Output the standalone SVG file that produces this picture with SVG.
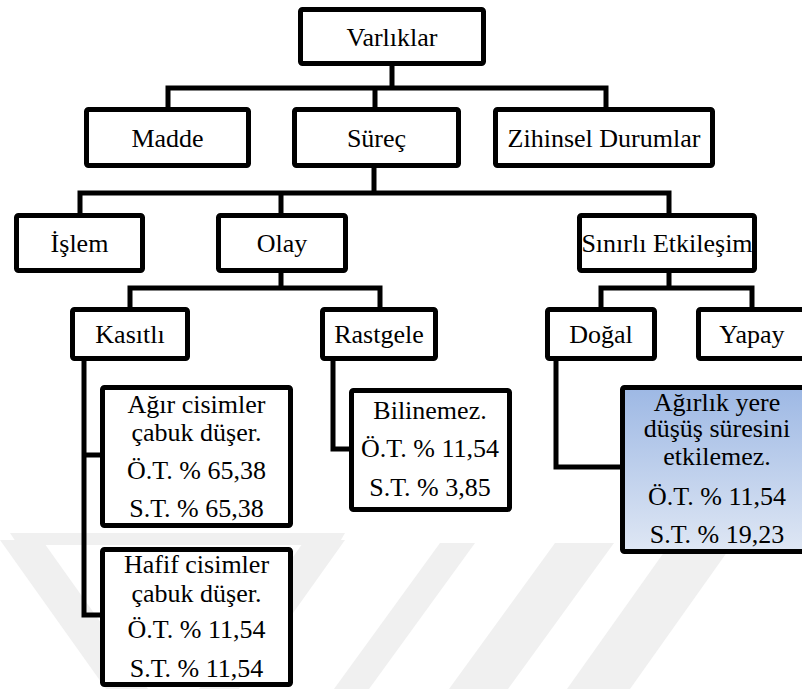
<svg xmlns="http://www.w3.org/2000/svg" width="802" height="689" viewBox="0 0 802 689">
  <defs>
    <linearGradient id="blueFill" x1="0" y1="0" x2="0" y2="1">
      <stop offset="0" stop-color="#9db8e4"/>
      <stop offset="1" stop-color="#dfe7f4"/>
    </linearGradient>
    <style>
      .box { fill: #ffffff; stroke: #000000; stroke-width: 5; }
      .blue { fill: url(#blueFill); }
      .wire { fill: none; stroke: #000000; stroke-width: 5; stroke-linejoin: miter; }
      .mark { fill: #f0f0f0; stroke: none; }
      .lbl { font-family: 'Liberation Serif', 'DejaVu Serif', serif; font-size: 26px; fill: #000000; text-anchor: middle; }
    </style>
  </defs>
  <rect width="802" height="689" fill="#ffffff"/>

  <!-- faint background emblem -->
  <g id="emblem">
    <polygon class="mark" points="10,533 345,533 338,545 18,545"/>
    <polygon class="mark" points="0,540 42,540 148,689 106,689"/>
    <polygon class="mark" points="305,540 345,540 239,689 199,689"/>
    <polygon class="mark" points="440,543 475,543 369,689 334,689"/>
    <polygon class="mark" points="555,543 614,543 508,689 449,689"/>
    <polygon class="mark" points="667,548 730,548 630,689 567,689"/>
  </g>

  <!-- connectors -->
  <g id="connectors">
    <path class="wire" d="M392,66 V88 M168,107 V88 H606 V107 M375,88 V107"/>
    <path class="wire" d="M374,168 V193 M80,213 V193 H669 V213 M281,193 V213"/>
    <path class="wire" d="M281,273 V288 M130,307 V288 H380 V307"/>
    <path class="wire" d="M669,273 V288 M601,307 V288 H752 V307"/>
    <path class="wire" d="M84,361 V615 H102 M84,455 H102"/>
    <path class="wire" d="M333,361 V449 H351"/>
    <path class="wire" d="M556,359 V467 H622"/>
  </g>

  <g font-family="Liberation Serif, DejaVu Serif, serif" font-size="26" text-anchor="middle" fill="#000000">
  <g id="varliklar">
    <rect class="box" x="300.5" y="9.5" width="183" height="54" rx="2"/>
    <text class="lbl" x="392" y="46">Varlıklar</text>
  </g>
  <g id="madde">
    <rect class="box" x="86.5" y="109.5" width="162" height="56" rx="2"/>
    <text class="lbl" x="167.5" y="147">Madde</text>
  </g>
  <g id="surec">
    <rect class="box" x="294.5" y="109.5" width="164" height="56" rx="2"/>
    <text class="lbl" x="376.5" y="147">Süreç</text>
  </g>
  <g id="zihinsel-durumlar">
    <rect class="box" x="495.5" y="109.5" width="217" height="56" rx="2"/>
    <text class="lbl" x="604" y="147">Zihinsel Durumlar</text>
  </g>
  <g id="islem">
    <rect class="box" x="16.5" y="215.5" width="126" height="55" rx="2"/>
    <text class="lbl" x="79.5" y="252">İşlem</text>
  </g>
  <g id="olay">
    <rect class="box" x="218.5" y="215.5" width="127" height="55" rx="2"/>
    <text class="lbl" x="282" y="252">Olay</text>
  </g>
  <g id="sinirli-etkilesim">
    <rect class="box" x="579.5" y="215.5" width="175" height="55" rx="2"/>
    <text class="lbl" x="667" y="252">Sınırlı Etkileşim</text>
  </g>
  <g id="kasitli">
    <rect class="box" x="72.5" y="309.5" width="115" height="49" rx="2"/>
    <text class="lbl" x="130" y="343">Kasıtlı</text>
  </g>
  <g id="rastgele">
    <rect class="box" x="322.5" y="309.5" width="113" height="49" rx="2"/>
    <text class="lbl" x="379" y="343">Rastgele</text>
  </g>
  <g id="dogal">
    <rect class="box" x="547.5" y="309.5" width="107" height="49" rx="2"/>
    <text class="lbl" x="601" y="343">Doğal</text>
  </g>
  <g id="yapay">
    <rect class="box" x="698.5" y="309.5" width="112" height="49" rx="2"/>
    <text class="lbl" x="752" y="343">Yapay</text>
  </g>
  <g id="agir-cisimler">
    <rect class="box" x="102.5" y="387.5" width="188" height="138" rx="2"/>
    <text class="lbl" x="196.5" y="413">Ağır cisimler</text>
    <text class="lbl" x="196.5" y="441">çabuk düşer.</text>
    <text class="lbl" x="196.5" y="479">Ö.T. % 65,38</text>
    <text class="lbl" x="196.5" y="517">S.T. % 65,38</text>
  </g>
  <g id="hafif-cisimler">
    <rect class="box" x="102.5" y="549.5" width="188" height="135" rx="2"/>
    <text class="lbl" x="196.5" y="573">Hafif cisimler</text>
    <text class="lbl" x="196.5" y="602">çabuk düşer.</text>
    <text class="lbl" x="196.5" y="638">Ö.T. % 11,54</text>
    <text class="lbl" x="196.5" y="677">S.T. % 11,54</text>
  </g>
  <g id="bilinemez">
    <rect class="box" x="351.5" y="390.5" width="158" height="119" rx="2"/>
    <text class="lbl" x="430" y="419">Bilinemez.</text>
    <text class="lbl" x="430" y="457">Ö.T. % 11,54</text>
    <text class="lbl" x="430" y="496">S.T. % 3,85</text>
  </g>
  <g id="agirlik">
    <rect class="box blue" x="622.5" y="387.5" width="189" height="164" rx="2"/>
    <text class="lbl" x="717" y="411">Ağırlık yere</text>
    <text class="lbl" x="717" y="437">düşüş süresini</text>
    <text class="lbl" x="717" y="465">etkilemez.</text>
    <text class="lbl" x="717" y="505">Ö.T. % 11,54</text>
    <text class="lbl" x="717" y="543">S.T. % 19,23</text>
  </g>
  </g>
</svg>
